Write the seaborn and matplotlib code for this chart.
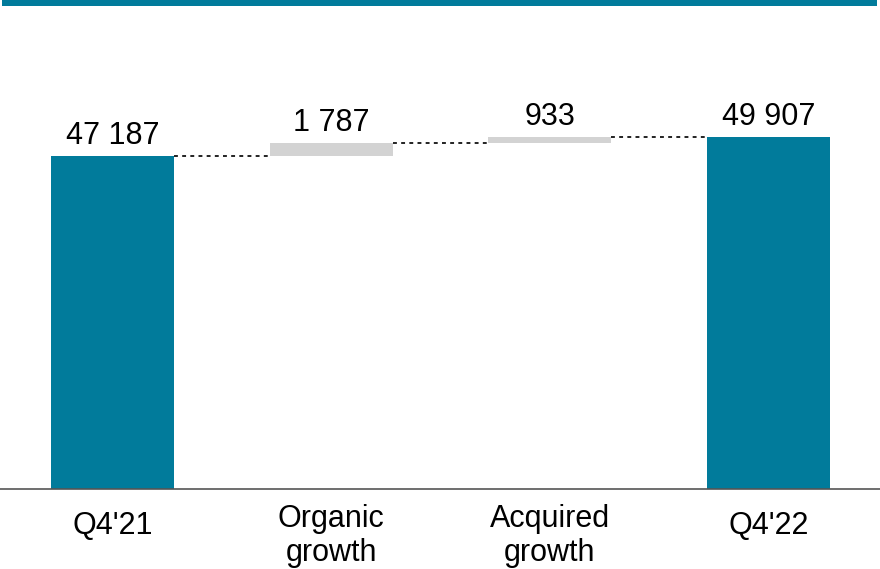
import matplotlib
matplotlib.use("Agg")
import matplotlib.pyplot as plt
import matplotlib.transforms as mtransforms
import seaborn as sns
import pandas as pd
from matplotlib.patches import Rectangle

categories = ["Q4'21", "Organic\ngrowth", "Acquired\ngrowth", "Q4'22"]
values = [47187, 1787, 933, 49907]
labels = ["47 187", "1 787", "933", "49 907"]
kinds = ["total", "delta", "delta", "total"]

# waterfall bottoms
bottoms = []
running = 0
for v, k in zip(values, kinds):
    if k == "total":
        bottoms.append(0)
        running = v
    else:
        bottoms.append(running)
        running += v
tops = [b + v for b, v in zip(bottoms, values)]

TEAL = "#017b9b"
GREY = "#d3d3d3"

sns.set_theme(style="white")
plt.rcParams["font.family"] = ["Liberation Sans", "DejaVu Sans"]

fig = plt.figure(figsize=(8.8, 5.69), dpi=100)
ax = fig.add_axes([0, 80 / 569, 1, 489 / 569])

df = pd.DataFrame({"cat": categories, "val": values})
width = 0.5625
sns.barplot(data=df, x="cat", y="val", order=categories, bottom=bottoms,
            width=width, ax=ax, color=TEAL, saturation=1, linewidth=0)
for p, k in zip(ax.patches, kinds):
    p.set_facecolor(TEAL if k == "total" else GREY)
    p.set_edgecolor("none")

# connectors
for i in range(len(values) - 1):
    y = tops[i]
    ax.plot([i + width / 2, i + 1 - width / 2], [y, y], color="#222222",
            lw=1.4, ls=(0, (2, 2.2)), zorder=1)

# value labels
for i, (t, lab) in enumerate(zip(tops, labels)):
    ax.annotate(lab, (i, t), xytext=(0, 8.5), textcoords="offset points",
                ha="center", va="baseline", fontsize=22, color="black")

ax.set_xlim(-0.5145, 3.51)
ax.set_ylim(0, 69263)
ax.set_xlabel("")
ax.set_ylabel("")
ax.set_yticks([])
ax.set_xticks(range(len(categories)))
ax.set_xticklabels(categories, fontsize=22, linespacing=1.17, color="black")
ax.tick_params(axis="x", length=0, pad=11)
for lab, cat in zip(ax.get_xticklabels(), categories):
    if "\n" not in cat:
        lab.set_transform(lab.get_transform() +
                          mtransforms.ScaledTranslation(0, -7 / 100, fig.dpi_scale_trans))
for s in ["top", "right", "left"]:
    ax.spines[s].set_visible(False)
ax.spines["bottom"].set_color("#555555")
ax.spines["bottom"].set_linewidth(1.2)
ax.set_facecolor("none")

# top decorative band
fig.add_artist(Rectangle((2 / 880, 1 - 6 / 569), 875 / 880, 6 / 569,
                         transform=fig.transFigure, facecolor=TEAL,
                         edgecolor="none"))

fig.savefig("out.png", dpi=100)
